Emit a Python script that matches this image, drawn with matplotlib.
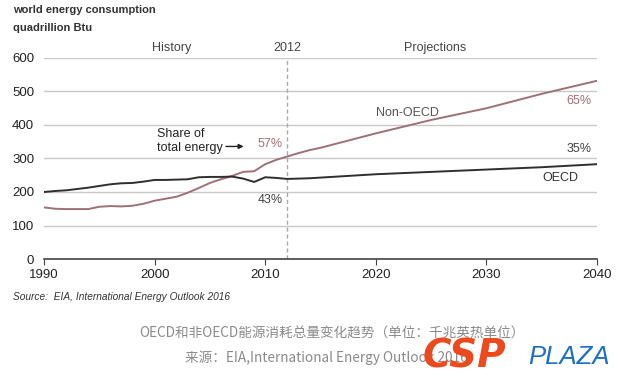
import matplotlib
matplotlib.use("Agg")
import matplotlib.pyplot as plt

years = [1990, 1991, 1992, 1993, 1994, 1995, 1996, 1997, 1998, 1999, 2000, 2001, 2002,
         2003, 2004, 2005, 2006, 2007, 2008, 2009, 2010, 2011, 2012, 2013, 2014, 2015,
         2020, 2025, 2030, 2035, 2040]
oecd = [200, 203, 205, 209, 213, 218, 223, 226, 227, 231, 236, 236, 237,
        238, 244, 245, 245, 246, 240, 230, 244, 242, 239, 240, 241, 243,
        253, 260, 267, 274, 283]
non_oecd = [154, 150, 149, 149, 149, 156, 158, 157, 159, 165, 174, 180, 186,
            198, 212, 227, 238, 248, 260, 262, 283, 296, 306, 316, 325, 332,
            375, 415, 450, 493, 532]
yticks = [0, 100, 200, 300, 400, 500, 600]
xticks = [1990, 2000, 2010, 2020, 2030, 2040]

plt.rcParams['font.family'] = ['Liberation Sans', 'DejaVu Sans']
fig = plt.figure(figsize=(6.2, 3.84), dpi=100)
ax = fig.add_axes([0.071, 0.3255, 0.892, 0.5235])

c_non = '#9e7178'
c_oecd = '#2f2f2f'
ax.plot(years, non_oecd, color=c_non, lw=1.4, zorder=3)
ax.plot(years, oecd, color=c_oecd, lw=1.4, zorder=3)
ax.axvline(2012, color='#aaaaaa', lw=1, ls=(0, (3, 2)), zorder=2)

ax.set_xlim(1990, 2040)
ax.set_ylim(0, 600)
ax.set_yticks(yticks)
ax.set_xticks(xticks)
ax.grid(axis='y', color='#c8c8c8', lw=1)
ax.set_axisbelow(True)
for s in ['top', 'right', 'left']:
    ax.spines[s].set_visible(False)
ax.spines['bottom'].set_color('#444444')
ax.spines['bottom'].set_linewidth(1.2)
ax.tick_params(axis='y', length=0, labelsize=9.5, colors='#222222', pad=7)
ax.tick_params(axis='x', length=4, direction='out', labelsize=9.5, colors='#222222', color='#444444')

ax.text(2001.5, 612, 'History', ha='center', va='bottom', fontsize=9, color='#444444')
ax.text(2012, 612, '2012', ha='center', va='bottom', fontsize=9, color='#444444')
ax.text(2025.4, 612, 'Projections', ha='center', va='bottom', fontsize=9, color='#444444')

ax.text(2000.2, 353, 'Share of\ntotal energy', ha='left', va='center', fontsize=9,
        color='#222222', linespacing=1.25)
ax.annotate('', xy=(2008.3, 336), xytext=(2006.2, 336),
            arrowprops=dict(arrowstyle='-|>', color='#222222', lw=1, mutation_scale=7))
ax.text(2009.3, 342, '57%', ha='left', va='center', fontsize=9, color=c_non)
ax.text(2009.3, 177, '43%', ha='left', va='center', fontsize=9, color='#444444')
ax.text(2020.0, 437, 'Non-OECD', ha='left', va='center', fontsize=9, color='#555555')
ax.text(2039.5, 473, '65%', ha='right', va='center', fontsize=9, color=c_non)
ax.text(2039.5, 327, '35%', ha='right', va='center', fontsize=9, color='#444444')
ax.text(2036.7, 242, 'OECD', ha='center', va='center', fontsize=9, color='#333333')

fig.text(13/620, 1 - 10/384, 'world energy consumption', ha='left', va='center',
         fontsize=8.0, fontweight='bold', color='#333333')
fig.text(13/620, 1 - 28/384, 'quadrillion Btu', ha='left', va='center',
         fontsize=8.0, fontweight='bold', color='#333333')
fig.text(13/620, 1 - 297/384, 'Source:  EIA, International Energy Outlook 2016', ha='left',
         va='center', fontsize=7.3, style='italic', color='#333333')

cjk = ['Noto Sans CJK SC', 'DejaVu Sans']
fig.text(332/620, 1 - 334/384, 'OECD和非OECD能源消耗总量变化趋势（单位：千兆英热单位）',
         ha='center', va='center', fontsize=9.8, color='#8a8a8a', family=cjk, fontweight='light')
fig.text(185/620, 1 - 358/384, '来源：EIA,International Energy Outlook 2016',
         ha='left', va='center', fontsize=9.8, color='#8a8a8a', family=cjk, fontweight='light')

fig.text(423/620, 1 - 357/384, 'CSP', ha='left', va='center', fontsize=28,
         fontweight='bold', style='italic', color='#ec4a1c', family=['DejaVu Sans'])
fig.text(528/620, 1 - 357/384, 'PLAZA', ha='left', va='center', fontsize=18.5,
         style='italic', color='#1d6fc4', family=['Liberation Sans'])

fig.savefig('out.png', dpi=100)
